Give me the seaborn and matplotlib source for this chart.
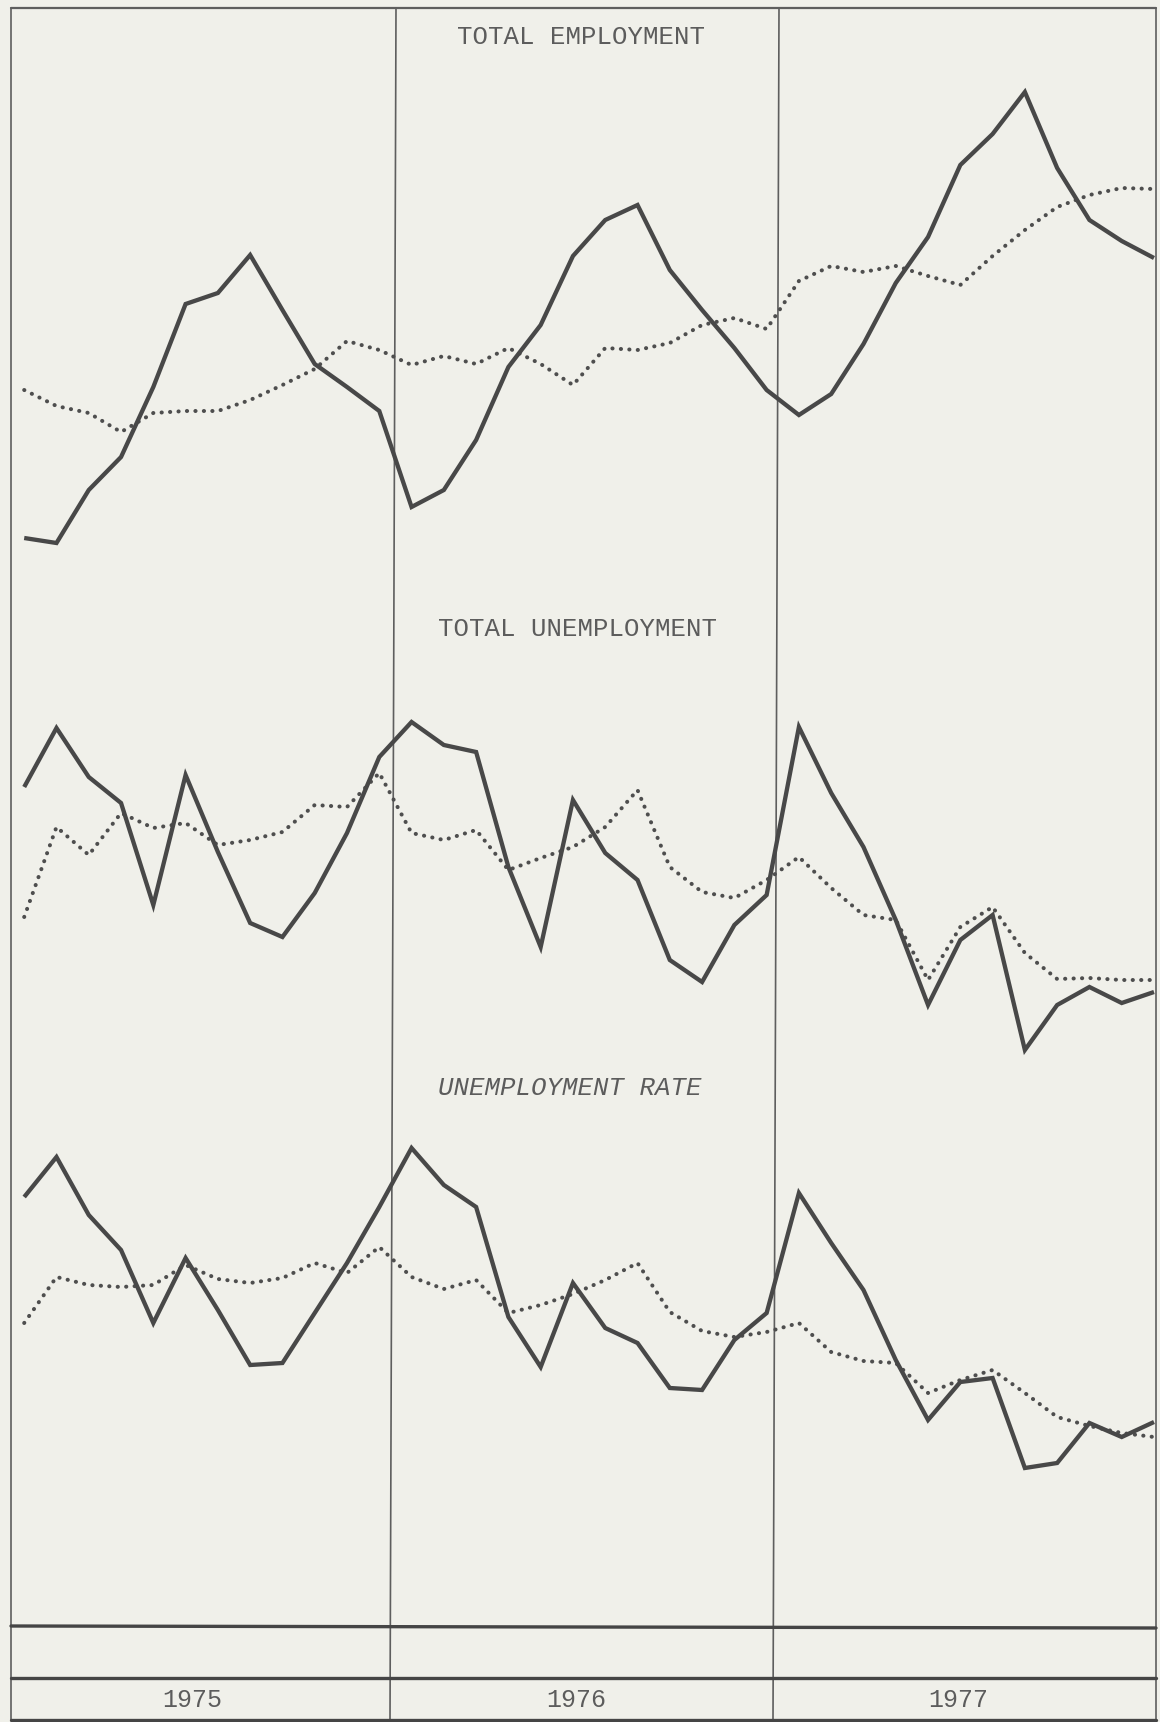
import matplotlib
matplotlib.use("Agg")
import matplotlib.pyplot as plt
import pandas as pd
import seaborn as sns

# ---------------- data (monthly, Jan 1975 .. Dec 1977; arbitrary index units) -------------
years = ["1975", "1976", "1977"]
months = list(range(36))
panel_titles = ["TOTAL EMPLOYMENT", "TOTAL UNEMPLOYMENT", "UNEMPLOYMENT RATE"]

emp_actual = [62, 57, 110, 143, 213, 296, 307, 345, 290, 236, 213, 189,
              93, 110, 160, 233, 275, 344, 380, 395, 330, 290, 252, 210,
              185, 206, 256, 317, 363, 435, 466, 508, 432, 380, 359, 342]
emp_adjusted = [210, 194, 187, 168, 187, 189, 189, 200, 215, 231, 259, 250,
                235, 244, 236, 252, 236, 215, 252, 250, 257, 275, 282, 271,
                319, 334, 328, 334, 324, 315, 344, 370, 393, 405, 412, 411]

unemp_actual = [313, 372, 323, 297, 195, 325, 248, 177, 163, 207, 267, 343,
                378, 355, 348, 233, 153, 300, 247, 220, 140, 118, 175, 205,
                373, 307, 253, 180, 95, 160, 185, 50, 95, 113, 97, 108]
unemp_adjusted = [183, 273, 245, 287, 272, 277, 255, 260, 268, 295, 293, 327,
                  267, 260, 270, 230, 242, 253, 273, 310, 233, 208, 202, 220,
                  243, 212, 185, 180, 120, 173, 193, 147, 121, 122, 120, 120]

rate_actual = [353, 393, 335, 300, 227, 292, 240, 185, 187, 237, 287, 343,
               402, 365, 343, 233, 183, 267, 222, 207, 162, 160, 210, 237,
               357, 307, 260, 190, 130, 168, 172, 82, 87, 127, 113, 128]
rate_adjusted = [227, 273, 265, 263, 265, 285, 271, 267, 272, 287, 277, 303,
                 273, 261, 270, 237, 245, 256, 270, 287, 238, 219, 213, 218,
                 227, 198, 189, 187, 157, 170, 180, 157, 133, 124, 117, 113]

# ---------------- styling ----------------
W, H = 1160, 1722
BG = "#f0f0ea"
INK = "#484848"
FRAME = "#5e5e5e"
TEXT = "#5c5c5c"

sns.set_theme(style="white")
plt.rcParams['font.family'] = ['Liberation Mono', 'DejaVu Sans Mono']

fig = plt.figure(figsize=(W / 100, H / 100), dpi=100)
fig.patch.set_facecolor(BG)

# frame / table layer (pixel coordinates)
frame = fig.add_axes([0, 0, 1, 1])
frame.set_xlim(0, W)
frame.set_ylim(H, 0)
frame.axis('off')
frame.patch.set_alpha(0)

LEFT, RIGHT, TOP, BOTTOM = 11, 1156, 8, 1720
lw_f = 1.2
frame.plot([LEFT, LEFT], [TOP, BOTTOM], color=FRAME, lw=lw_f)
frame.plot([RIGHT, RIGHT], [TOP, BOTTOM], color=FRAME, lw=lw_f)
frame.plot([LEFT, RIGHT], [TOP, TOP], color=FRAME, lw=1.6)
frame.plot([396, 390], [TOP, BOTTOM], color=FRAME, lw=lw_f)
frame.plot([779, 773], [TOP, BOTTOM], color=FRAME, lw=lw_f)
frame.plot([LEFT, RIGHT], [1626, 1628], color="#454545", lw=2.4)
frame.plot([LEFT, RIGHT], [1678, 1678], color="#454545", lw=2.4)
frame.plot([LEFT, RIGHT], [BOTTOM, BOTTOM], color="#454545", lw=2.4)

year_x = [192, 576, 958]
for xx, yr in zip(year_x, years):
    frame.text(xx, 1700, yr, ha='center', va='center', fontsize=18,
               color=TEXT)

title_pos = [(581, 37), (577, 629), (570, 1088)]
for (tx, ty), t, st in zip(title_pos, panel_titles, ['normal', 'normal', 'italic']):
    frame.text(tx, ty, t, ha='center', va='center', fontsize=18.5,
               color=TEXT, style=st)

# ---------------- panels ----------------
x0, dx = 24.2, 32.28          # pixel position of Jan 1975 and month step
xlim = (-x0 / dx, (W - x0) / dx)

bands = [(0, 600), (600, 1100), (1050, 1550)]
series = [(emp_actual, emp_adjusted), (unemp_actual, unemp_adjusted),
          (rate_actual, rate_adjusted)]

for (top, bot), (act, adj) in zip(bands, series):
    ax = fig.add_axes([0, 1 - bot / H, 1, (bot - top) / H])
    ax.set_xlim(*xlim)
    ax.set_ylim(0, bot - top)
    ax.axis('off')
    ax.patch.set_alpha(0)
    df = pd.DataFrame({"month": months, "actual": act, "adjusted": adj})
    sns.lineplot(data=df, x="month", y="adjusted", ax=ax, color="#4e4e4e",
                 lw=2.9, linestyle=(0, (0.05, 2.05)), dash_capstyle='round')
    sns.lineplot(data=df, x="month", y="actual", ax=ax, color=INK,
                 lw=3.1, solid_joinstyle='miter', solid_capstyle='butt')

fig.savefig("out.png", dpi=100, facecolor=BG)
